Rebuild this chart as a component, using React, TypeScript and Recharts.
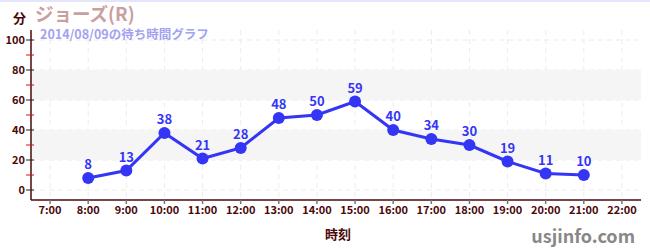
import React from "react";
import {
  LineChart,
  Line,
  XAxis,
  YAxis,
  CartesianGrid,
  ReferenceArea,
  LabelList,
} from "recharts";

const hours = [8, 9, 10, 11, 12, 13, 14, 15, 16, 17, 18, 19, 20, 21];
const waits = [8, 13, 38, 21, 28, 48, 50, 59, 40, 34, 30, 19, 11, 10];
const xTicks = [7, 8, 9, 10, 11, 12, 13, 14, 15, 16, 17, 18, 19, 20, 21, 22];
const yTicks = [0, 10, 20, 30, 40, 50, 60, 70, 80, 90, 100];
const yGrid = [0, 20, 40, 60, 80, 100];
const bands = [
  [20, 40],
  [60, 80],
];

const data = hours.map((h, i) => ({ hour: h, wait: waits[i] }));

const FONT = '"Noto Sans CJK JP", "Noto Sans", sans-serif';
const MAROON = "#4a0808";
const BLUE = "#3535f5";

const YTick = (props: any) => {
  const { x, y, payload } = props;
  const v = payload.value;
  const major = v % 20 === 0;
  return (
    <g>
      <line
        x1={x + 3}
        x2={x + 11}
        y1={y}
        y2={y}
        stroke={major ? "#222" : "#d01010"}
        strokeWidth={1}
      />
      {major && (
        <text
          x={x + 2}
          y={y}
          dy="0.35em"
          textAnchor="end"
          fontSize={11}
          fontWeight="bold"
          fill={MAROON}
          fontFamily={FONT}
        >
          {v}
        </text>
      )}
    </g>
  );
};

export default function App() {
  return (
    <div
      style={{
        position: "absolute",
        left: 0,
        top: 0,
        width: 650,
        height: 250,
        background: "#fff",
        fontFamily: FONT,
        borderTop: "2px solid #e4e4fa",
        boxSizing: "border-box",
      }}
    >
      <div style={{ position: "absolute", top: -2, left: 0 }}>
        <LineChart
          width={650}
          height={250}
          data={data}
          margin={{ top: 30, right: 9, bottom: 0, left: 0 }}
        >
          {bands.map(([a, b]) => (
            <ReferenceArea
              key={a}
              y1={a}
              y2={b}
              fill="#f5f5f5"
              fillOpacity={1}
              stroke="none"
            />
          ))}
          <CartesianGrid
            stroke="#ececec"
            strokeDasharray="5 4"
            horizontalValues={yGrid}
            verticalValues={xTicks}
          />
          <XAxis
            dataKey="hour"
            type="number"
            domain={[6.5, 22.5]}
            ticks={xTicks}
            interval={0}
            height={50}
            tickFormatter={(h: number) => `${h}:00`}
            stroke={MAROON}
            strokeWidth={1.5}
            tickLine={{ stroke: "#777" }}
            tickSize={4}
            tick={{
              fill: MAROON,
              fontSize: 11,
              fontWeight: "bold",
              fontFamily: FONT,
            }}
          />
          <YAxis
            type="number"
            domain={[-20 / 3, 320 / 3]}
            ticks={yTicks}
            interval={0}
            width={31}
            stroke={MAROON}
            strokeWidth={1.5}
            tickLine={false}
            tick={<YTick />}
          />
          <Line
            type="linear"
            dataKey="wait"
            stroke={BLUE}
            strokeWidth={3}
            dot={{ r: 6, fill: BLUE, stroke: BLUE, strokeWidth: 0 }}
            isAnimationActive={false}
          >
            <LabelList
              dataKey="wait"
              position="top"
              offset={9}
              fill={BLUE}
              fontSize={13}
              fontWeight="bold"
              fontFamily={FONT}
            />
          </Line>
        </LineChart>
      </div>
      <div
        style={{
          position: "absolute",
          left: 13,
          top: 8,
          fontSize: 13,
          fontWeight: "bold",
          color: MAROON,
          lineHeight: "15px",
        }}
      >
        分
      </div>
      <div
        style={{
          position: "absolute",
          left: 35,
          top: 2,
          fontSize: 18.5,
          fontWeight: "bold",
          color: "#c9a0a0",
          lineHeight: "19px",
        }}
      >
        ジョーズ(R)
      </div>
      <div
        style={{
          position: "absolute",
          left: 40,
          top: 25,
          fontSize: 12.5,
          fontWeight: "bold",
          color: "#a2a2f0",
          lineHeight: "13px",
        }}
      >
        2014/08/09の待ち時間グラフ
      </div>
      <div
        style={{
          position: "absolute",
          left: 325,
          top: 223,
          fontSize: 13,
          fontWeight: "bold",
          color: MAROON,
          lineHeight: "18px",
        }}
      >
        時刻
      </div>
      <div
        style={{
          position: "absolute",
          right: 15,
          top: 222,
          fontSize: 18,
          fontWeight: "bold",
          color: "#888",
          lineHeight: "22px",
        }}
      >
        usjinfo.com
      </div>
    </div>
  );
}
